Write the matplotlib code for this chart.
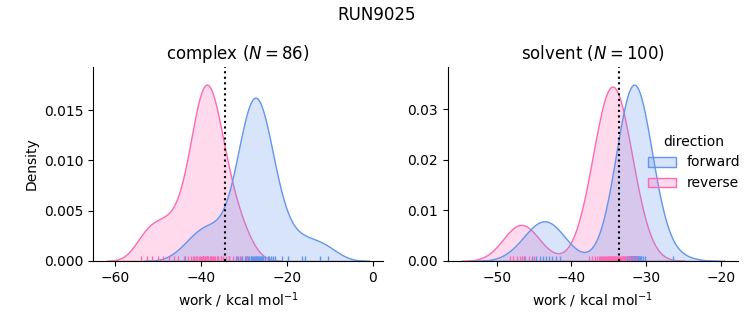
import pandas as pd
import matplotlib
matplotlib.use("Agg")
import matplotlib.pyplot as plt
import seaborn as sns

# work values in kcal/mol, one list per phase and direction
complex_forward = [
    -43.6, -41.2, -39.4, -37.8, -35.9,
    -38.5, -33.4, -31.9, -31.4, -30.9, -30.5, -29.7, -29.45, -29.2, -28.95,
    -28.7, -28.45, -28.25, -28.0, -27.8, -27.65, -27.4, -27.2, -27.0, -26.85,
    -26.65, -26.4, -26.2, -25.95, -25.7, -25.45, -25.2, -24.5, -24.1, -23.7,
    -23.2, -22.7, -21.2, -19.8,
    -16.5, -15.9, -12.4, -10.4,
]
complex_reverse = [
    -53.9, -52.6, -51.3, -50.0, -48.7, -47.4, -46.2,
    -45.2, -43.8, -42.9, -42.3, -41.9, -41.5, -41.1, -40.8, -40.5, -40.2,
    -40.0, -39.7, -39.5, -39.3, -39.0, -38.8, -38.6, -38.5, -38.4, -35.2,
    -37.9, -37.7, -37.4, -37.2, -36.9, -36.6, -36.3, -35.9, -35.4, -34.8,
    -34.1, -33.4, -32.6, -31.7, -30.6, -29.2,
]
solvent_forward = [
    -46.4, -45.3, -44.7, -44.2, -43.8, -43.4, -43.0, -42.6, -42.1, -41.6,
    -33.05, -32.76, -32.60, -32.48, -32.39, -32.31, -32.25, -32.18, -32.12, -32.06,
    -32.01, -31.96, -31.91, -31.87, -31.82, -31.78, -31.74, -31.69, -31.65, -31.61,
    -31.57, -31.53, -31.48, -31.44, -31.40, -31.35, -31.31, -31.26, -31.21, -31.16,
    -31.11, -31.04, -30.98, -30.92, -30.83, -30.74, -30.62, -30.46, -30.17, -26.40,
]
solvent_reverse = [
    -48.3, -47.8, -47.3, -46.9, -46.6, -46.2, -45.7, -45.0,
    -37.70, -37.21, -36.86, -36.59, -36.37, -36.17, -36.00, -35.85, -35.72, -35.58,
    -35.46, -35.35, -35.24, -35.13, -35.03, -34.93, -34.84, -34.76, -34.67, -34.59,
    -34.50, -34.46, -34.41, -34.33, -34.24, -34.16, -34.07, -33.97, -33.87, -33.76,
    -33.65, -33.54, -33.42, -33.28, -33.15, -33.00, -32.83, -32.63, -32.41, -32.14,
    -31.79, -31.30,
]
phases = ["complex", "solvent"]
directions = ["forward", "reverse"]
colors = ["cornflowerblue", "hotpink"]
free_energy = [-34.4, -33.6]   # dotted line per phase
n_work = [86, 100]

rows = []
for phase, fwd, rev in [("complex", complex_forward, complex_reverse),
                        ("solvent", solvent_forward, solvent_reverse)]:
    rows += [(phase, "forward", w) for w in fwd]
    rows += [(phase, "reverse", w) for w in rev]
df = pd.DataFrame(rows, columns=["phase", "direction", "work"])

g = sns.displot(data=df, x="work", hue="direction", col="phase", kind="kde",
                fill=True, rug=True, palette=colors, hue_order=directions,
                col_order=phases, facet_kws=dict(sharex=False, sharey=False),
                height=3, aspect=1.2)

for ax, phase, n, dg in zip(g.axes.flat, phases, n_work, free_energy):
    ax.axvline(dg, color="k", ls=":")
    ax.set_title(f"{phase} ($N={n}$)")
    ax.set_xlabel("work / kcal mol$^{-1}$")

g.figure.suptitle("RUN9025")
g.figure.set_size_inches(7.53, 3.25)
g.figure.subplots_adjust(left=0.1235, right=0.98, bottom=0.197, top=0.794, wspace=0.224)
g.figure.savefig("out.png", dpi=100)
